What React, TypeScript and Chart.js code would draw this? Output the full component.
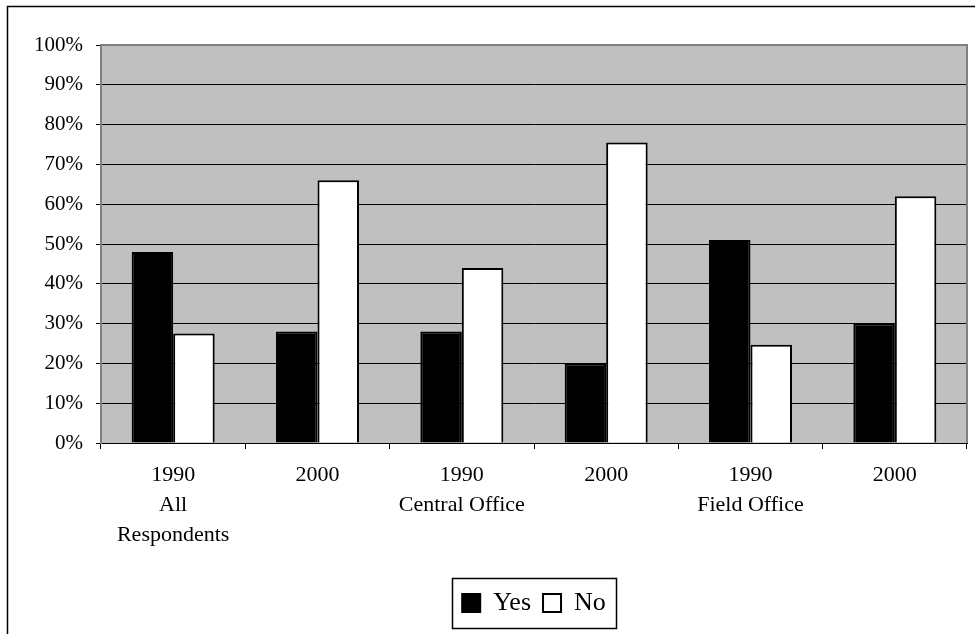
import { useEffect, useRef } from "react";
import { Chart, registerables } from "chart.js";

Chart.register(...registerables);

// Survey answers by respondent group and year (percent)
const categories: string[][] = [
  ["1990", "All", "Respondents"],
  ["2000"],
  ["1990", "Central Office"],
  ["2000"],
  ["1990", "Field Office"],
  ["2000"],
];
const yesValues = [48, 28, 28, 20, 51, 30];
const noValues = [27.5, 66, 44, 75.5, 24.7, 62];
const seriesNames = ["Yes", "No"];
const yMin = 0;
const yMax = 100;
const yStep = 10;

const FONT = "'Liberation Serif', 'Times New Roman', Times, serif";

// Page frame, gray plot background, plot border and the boxed legend
const framePlugin = {
  id: "framePlugin",
  beforeDraw(chart: any) {
    const { ctx, chartArea: a, width, height } = chart;
    ctx.save();
    ctx.fillStyle = "#ffffff";
    ctx.fillRect(0, 0, width, height);
    ctx.strokeStyle = "#000000";
    ctx.lineWidth = 1.5;
    ctx.beginPath();
    ctx.moveTo(7.5, height + 2);
    ctx.lineTo(7.5, 6.5);
    ctx.lineTo(width + 2, 6.5);
    ctx.stroke();
    ctx.fillStyle = "#C0C0C0";
    ctx.fillRect(a.left, a.top, a.right - a.left, a.bottom - a.top);
    ctx.restore();
  },
  beforeDatasetsDraw(chart: any) {
    const { ctx, chartArea: a } = chart;
    ctx.save();
    ctx.strokeStyle = "#808080";
    ctx.lineWidth = 2;
    ctx.beginPath();
    ctx.moveTo(a.left, a.top);
    ctx.lineTo(a.right, a.top);
    ctx.lineTo(a.right, a.bottom);
    ctx.stroke();
    ctx.restore();
  },
  afterDraw(chart: any) {
    const lg = chart.legend;
    if (!lg || !lg.legendHitBoxes || !lg.legendHitBoxes.length) return;
    const boxes = lg.legendHitBoxes;
    let l = Infinity, r = -Infinity, t = Infinity, b = -Infinity;
    for (const h of boxes) {
      l = Math.min(l, h.left);
      r = Math.max(r, h.left + h.width);
      t = Math.min(t, h.top);
      b = Math.max(b, h.top + h.height);
    }
    const { ctx } = chart;
    ctx.save();
    ctx.strokeStyle = "#000000";
    ctx.lineWidth = 1.5;
    const cy = (t + b) / 2;
    ctx.strokeRect(Math.round(l - 10) + 0.5, Math.round(cy - 25) + 0.5, Math.round(r - l + 20), 50);
    ctx.restore();
  },
};

export default function App() {
  const canvasRef = useRef<HTMLCanvasElement | null>(null);

  useEffect(() => {
    const canvas = canvasRef.current;
    if (!canvas) return;
    Chart.defaults.font.family = FONT;
    Chart.defaults.color = "#000000";

    const chart = new Chart(canvas, {
      type: "bar",
      data: {
        labels: categories,
        datasets: [
          {
            label: seriesNames[0],
            data: yesValues,
            backgroundColor: "#000000",
            borderColor: "#000000",
            borderWidth: 2,
            categoryPercentage: 0.575,
            barPercentage: 1,
          },
          {
            label: seriesNames[1],
            data: noValues,
            backgroundColor: "#ffffff",
            borderColor: "#000000",
            borderWidth: 2,
            categoryPercentage: 0.575,
            barPercentage: 1,
          },
        ],
      },
      options: {
        animation: false,
        responsive: false,
        maintainAspectRatio: false,
        layout: { padding: { top: 45, right: 8, left: 0, bottom: 8 } },
        scales: {
          x: {
            grid: {
              offset: true,
              drawOnChartArea: false,
              drawTicks: true,
              tickLength: 6,
              color: "#000000",
              lineWidth: 1,
            },
            border: { color: "#000000", width: 1 },
            ticks: {
              color: "#000000",
              font: { size: 22, lineHeight: 1.36 },
              padding: 11,
              maxRotation: 0,
              autoSkip: false,
            },
            afterFit: (s: any) => {
              s.height = 135;
            },
          },
          y: {
            min: yMin,
            max: yMax,
            ticks: {
              stepSize: yStep,
              color: "#000000",
              font: { size: 21 },
              padding: 13,
              callback: (v: any) => `${v}%`,
            },
            grid: {
              color: (c: any) => (c.tick && c.tick.value === yMax ? "#808080" : "#000000"),
              lineWidth: 1,
              tickLength: 5,
              tickColor: "#000000",
            },
            border: { color: "#808080", width: 2 },
            afterFit: (s: any) => {
              s.width = 101;
            },
          },
        },
        plugins: {
          legend: {
            position: "bottom",
            fullSize: false,
            labels: {
              color: "#000000",
              font: { size: 26 },
              boxWidth: 18,
              boxHeight: 18,
              padding: 12,
            },
          },
          tooltip: { enabled: false },
        },
      },
      plugins: [framePlugin],
    });
    return () => chart.destroy();
  }, []);

  return (
    <div style={{ position: "absolute", left: 0, top: 0, width: 975, height: 634 }}>
      <canvas ref={canvasRef} width={975} height={634} style={{ display: "block" }} />
    </div>
  );
}
